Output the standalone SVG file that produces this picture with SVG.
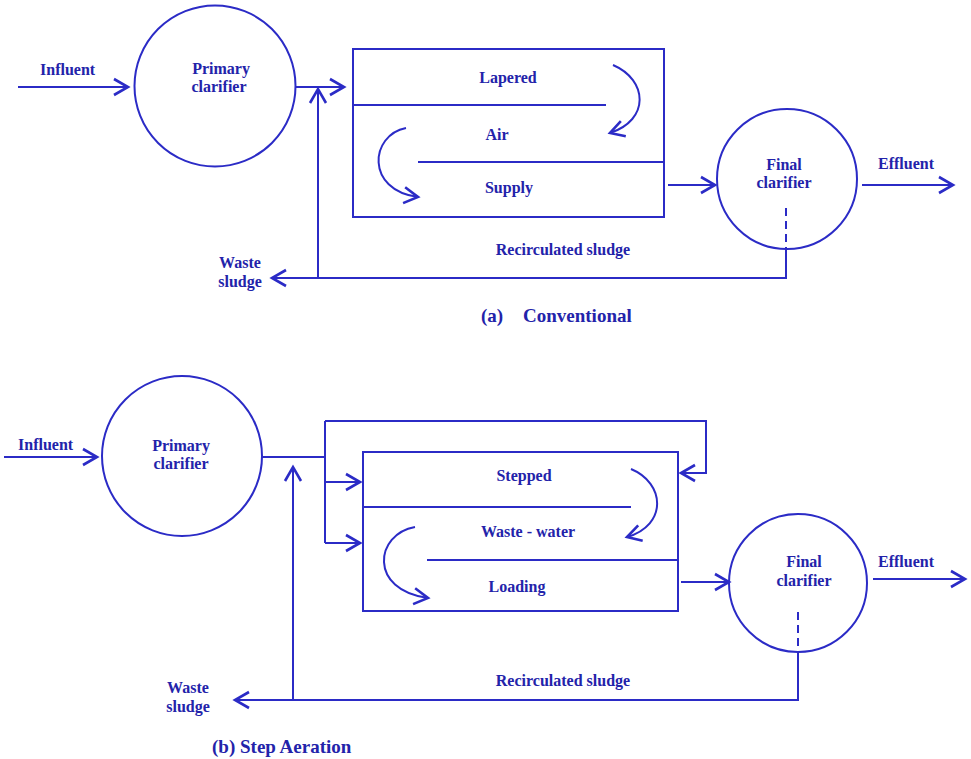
<svg xmlns="http://www.w3.org/2000/svg" width="971" height="759" viewBox="0 0 971 759">
  <style>
    .ln { fill: none; stroke: #2b2bc6; stroke-width: 2; }
    .dash { fill: none; stroke: #2b2bc6; stroke-width: 2; stroke-dasharray: 8 5; }
    .shape { fill: #ffffff; stroke: #2b2bc6; stroke-width: 2; }
    .arr { marker-end: url(#chev); }
    text { font-family: "Liberation Serif", "Times New Roman", serif; font-weight: bold; fill: #2323aa; font-size: 16px; }
    .mid { text-anchor: middle; }
    .cap { font-size: 19px; }
  </style>
  <defs>
    <marker id="chev" viewBox="-18 -11 22 22" refX="0" refY="0" markerWidth="22" markerHeight="22" markerUnits="userSpaceOnUse" orient="auto">
      <path d="M-14,-8 L0,0 L-14,8" fill="none" stroke="#2b2bc6" stroke-width="2.6" stroke-linejoin="miter"/>
    </marker>
  </defs>
  <rect width="971" height="759" fill="#ffffff"/>

  <!-- (a) Conventional -->
  <g id="primary-a">
    <circle class="shape" cx="215" cy="86" r="80.5"/>
    <text class="mid" x="221" y="74">Primary</text>
    <text class="mid" x="219" y="92">clarifier</text>
  </g>
  <g id="aeration-a">
    <rect class="shape" x="353" y="49" width="311" height="168"/>
    <path class="ln" d="M353,105 H606 M418,162 H664"/>
    <text class="mid" x="508" y="83">Lapered</text>
    <text class="mid" x="497" y="140">Air</text>
    <text class="mid" x="509" y="193">Supply</text>
  </g>
  <g id="final-a">
    <circle class="shape" cx="787" cy="179" r="70"/>
    <text class="mid" x="784" y="170">Final</text>
    <text class="mid" x="784" y="188">clarifier</text>
  </g>
  <g id="connectors-a">
    <path class="ln arr" d="M18,87 H128"/>
    <path class="ln arr" d="M296,87 H344"/>
    <path class="dash" d="M786,208 V249"/>
    <path class="ln arr" d="M786,249 V278 H272"/>
    <path class="ln arr" d="M318,278 V89"/>
    <path class="ln arr" d="M668,185 H715"/>
    <path class="ln arr" d="M862,185 H953"/>
    <path class="ln arr" d="M613,65 C648,80 650,120 610,133"/>
    <path class="ln arr" d="M406,128 C370,135 365,190 418,197"/>
  </g>
  <g id="labels-a">
    <text x="40" y="75">Influent</text>
    <text class="mid" x="906" y="169">Effluent</text>
    <text class="mid" x="240" y="268">Waste</text>
    <text class="mid" x="240" y="287">sludge</text>
    <text class="mid" x="563" y="255">Recirculated sludge</text>
    <text class="cap" x="481" y="322">(a)</text>
    <text class="cap" x="523" y="322">Conventional</text>
  </g>

  <!-- (b) Step Aeration -->
  <g id="primary-b">
    <circle class="shape" cx="182" cy="456" r="80"/>
    <text class="mid" x="181" y="451">Primary</text>
    <text class="mid" x="181" y="469">clarifier</text>
  </g>
  <g id="aeration-b">
    <rect class="shape" x="363" y="452" width="315" height="159"/>
    <path class="ln" d="M363,507 H631 M427,560 H678"/>
    <text class="mid" x="524" y="481">Stepped</text>
    <text class="mid" x="528" y="537">Waste - water</text>
    <text class="mid" x="517" y="592">Loading</text>
  </g>
  <g id="final-b">
    <circle class="shape" cx="798" cy="583" r="69"/>
    <text class="mid" x="804" y="567">Final</text>
    <text class="mid" x="804" y="586">clarifier</text>
  </g>
  <g id="connectors-b">
    <path class="ln arr" d="M4,457 H97"/>
    <path class="ln" d="M262,457 H325 M325,421 V543"/>
    <path class="ln arr" d="M325,421 H706 V473 H681"/>
    <path class="ln arr" d="M325,482 H360"/>
    <path class="ln arr" d="M325,543 H360"/>
    <path class="ln arr" d="M293,700 V467"/>
    <path class="dash" d="M798,612 V652"/>
    <path class="ln arr" d="M798,652 V700 H235"/>
    <path class="ln arr" d="M681,582 H729"/>
    <path class="ln arr" d="M873,579 H965"/>
    <path class="ln arr" d="M631,469 C665,483 668,525 627,537"/>
    <path class="ln arr" d="M415,527 C375,534 368,590 428,598"/>
  </g>
  <g id="labels-b">
    <text x="18" y="450">Influent</text>
    <text class="mid" x="906" y="567">Effluent</text>
    <text class="mid" x="188" y="693">Waste</text>
    <text class="mid" x="188" y="712">sludge</text>
    <text class="mid" x="563" y="686">Recirculated sludge</text>
    <text class="cap" x="212" y="753">(b)</text>
    <text class="cap" x="240" y="753">Step Aeration</text>
  </g>
</svg>
